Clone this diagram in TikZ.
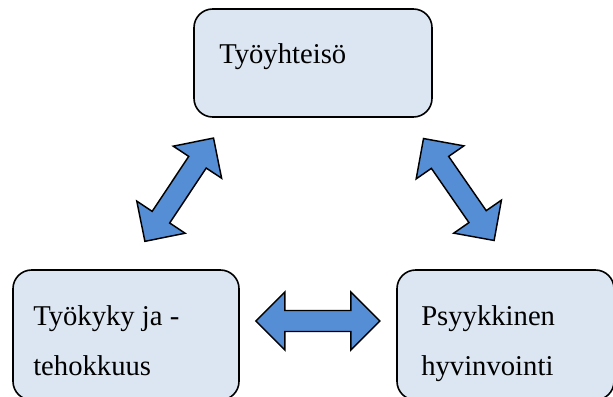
\documentclass[tikz,border=0pt]{standalone}
\usepackage{tikz}
\usepackage{fontspec}
\setmainfont{Liberation Serif}
\definecolor{boxfill}{HTML}{DCE6F2}
\definecolor{arrowfill}{HTML}{558ED5}
\tikzset{
  box/.style={draw=black, line width=1.2pt, fill=boxfill, rounded corners=14pt, inner sep=0pt},
  lbl/.style={anchor=base west, inner sep=0pt, font=\fontsize{21.5}{26}\selectfont},
  blockarrow/.style={draw=black, line width=1.1pt, fill=arrowfill, line join=miter},
}
\newcommand{\dblarrow}[3]{%
  \begin{scope}[shift={#1}, rotate=#2]
    \draw[blockarrow] (-62,0) -- (-33,-29) -- (-33,-10.5) -- (33,-10.5) -- (33,-29)
      -- (62,0) -- (33,29) -- (33,10.5) -- (-33,10.5) -- (-33,29) -- cycle;
    \coordinate (#3) at (0,0);
  \end{scope}}
\begin{document}
\begin{tikzpicture}[x=0.75pt, y=-0.75pt]
  \useasboundingbox (0,0) rectangle (613,396);
  \clip (0,0) rectangle (613,396);
  % boxes
  \node[box, minimum width=178.5pt, minimum height=81pt] (top) at (313,63) {};
  \node[box, minimum width=169.5pt, minimum height=97.5pt] (left) at (126,335) {};
  \node[box, minimum width=162.75pt, minimum height=97.5pt] (right) at (505.5,335) {};
  % labels
  \node[lbl] (ttop) at (219,63) {Työyhteisö};
  \node[lbl] (tl1) at (33,325) {Työkyky ja -};
  \node[lbl] (tl2) at (33,375) {tehokkuus};
  \node[lbl] (tr1) at (421,325) {Psyykkinen};
  \node[lbl] (tr2) at (421,375) {hyvinvointi};
  % block arrows
  \dblarrow{(179.2,189.7)}{56.4}{aL}
  \dblarrow{(458.8,189.5)}{124.7}{aR}
  \dblarrow{(317.9,321)}{0}{aH}
\end{tikzpicture}
\end{document}
